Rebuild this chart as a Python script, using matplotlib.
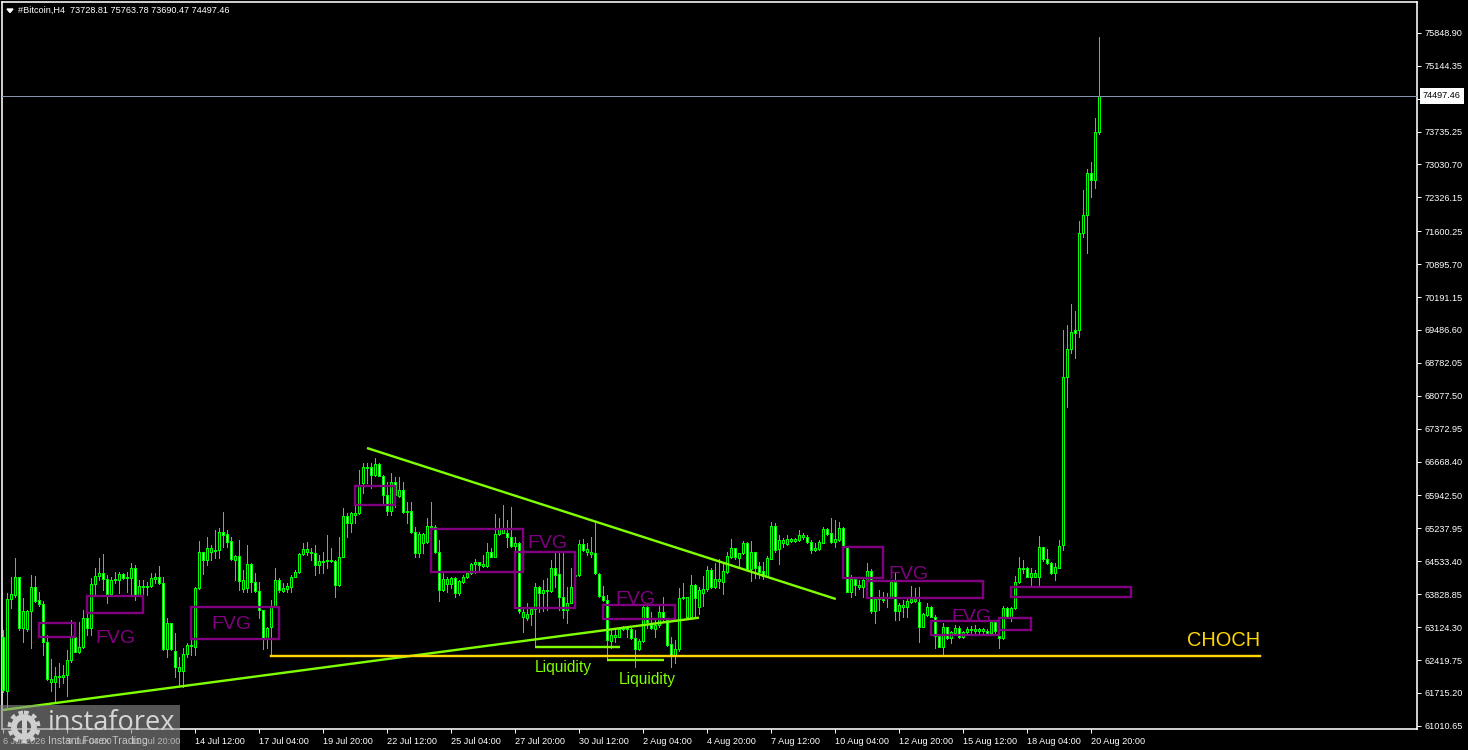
#!/usr/bin/env python
import matplotlib
matplotlib.use('Agg')
import matplotlib.pyplot as plt
from matplotlib.patches import Rectangle, Circle, Polygon

plt.rcParams['font.family'] = ['Liberation Sans', 'DejaVu Sans']

opens = [
    62920,61756,63719,63812,64190,63098,63084,63476,63976,63705,
    63612,62798,61956,61956,62063,62063,62099,62413,62920,62598,
    62705,63312,63112,64040,64226,64276,64147,63833,64133,64133,
    64254,64169,64169,64383,63812,63976,63976,64004,64154,64190,
    64062,62656,63205,62620,62192,62192,62541,62720,62705,63954,
    64725,64561,64740,64747,64775,65168,65111,64968,64561,64647,
    63947,63954,64476,64097,63897,63491,62884,63119,63576,64133,
    63897,63933,63990,64204,64297,64682,64732,64740,64704,64447,
    64525,64540,64540,64540,64026,64632,65503,65360,65517,65567,
    66202,66523,66545,66381,66616,66366,65952,65617,66238,65931,
    66059,65596,65617,65167,64703,64918,64953,65260,65274,64739,
    63918,64047,64047,64168,63847,64097,64190,64275,64475,64511,
    64432,64432,64725,64632,65110,65146,65146,65060,64868,64932,
    63333,63312,63405,63504,63990,63861,63904,63904,64382,64254,
    63761,63490,63647,64225,64239,64903,64739,64689,64703,64261,
    63797,63704,62826,62919,62919,63083,63076,63076,62898,62648,
    62826,63547,63169,63083,63169,63454,63276,62755,62505,62648,
    63776,63347,63347,64025,63547,63862,63933,64347,63976,64112,
    64097,64312,64633,64811,64597,64704,64918,64369,64725,64433,
    64326,64219,64583,65289,64790,64918,64904,64968,64975,64990,
    65054,65061,64954,64775,64790,64932,65218,65132,64954,64990,
    65239,64833,63883,64147,63990,63990,64133,64326,63477,63719,
    63705,63755,63762,64090,63477,63548,63548,63669,63683,63669,
    63134,63384,63548,63348,62934,62706,63120,62884,62991,63098,
    62920,63027,63063,63048,63048,63048,63048,62991,63227,62934,
    62884,63526,63348,63526,64097,64362,64383,64204,64204,64204,
    64833,64576,64490,64290,64397,64882,68471,69071,69485,69485,
    71570,71956,72855,72698,73728.81,
]
closes = [
    61778,63719,63826,64190,63098,63476,63476,63976,63690,63612,
    62798,62006,62020,62085,62085,62099,62413,62920,62598,62705,
    63312,63112,64040,64226,64276,64147,63833,64133,64161,64254,
    64183,64190,64383,63812,64004,64004,64004,64169,64190,64062,
    62656,63205,62656,62277,62277,62541,62741,62741,63969,64725,
    64561,64811,64811,64775,65168,65096,64954,64575,64647,64119,
    64133,64476,64097,63897,63491,62884,63098,63576,64133,63919,
    63954,64004,64204,64297,64682,64789,64789,64704,64447,64533,
    64547,64561,64561,64026,64632,65503,65360,65560,65560,66167,
    66545,66545,66381,66616,66366,65952,65617,66238,65952,66059,
    65596,65617,65167,64703,65110,65110,65296,65296,64739,63918,
    64147,64147,64168,63847,64104,64190,64275,64475,64511,64461,
    64475,64725,64632,65110,65239,65239,65060,64868,64932,63476,
    63454,63405,63504,63990,63861,63918,63918,64382,64239,63761,
    63490,63647,63975,64239,64903,64775,64789,64739,64275,63797,
    63704,62848,62955,62955,63083,63112,63098,62883,62648,62826,
    63547,63240,63098,63169,63454,63290,62741,62505,62648,63740,
    63740,63761,64025,63740,63918,63933,64347,63976,64147,64147,
    64326,64647,64811,64618,64704,64918,64369,64725,64383,64312,
    64219,64597,65289,64775,64990,64990,65004,65011,65004,65089,
    65089,64954,64775,64811,64940,65218,65118,64954,65004,65239,
    64847,63883,64147,64019,64019,64133,64326,63477,63719,63733,
    63733,63776,64090,63477,63591,63591,63676,63719,63719,63134,
    63398,63548,63348,62934,62706,63120,62884,63027,63098,62906,
    63027,63077,63091,63077,63077,63077,62991,63227,63048,62884,
    63526,63348,63526,64097,64383,64383,64204,64276,64276,64833,
    64576,64490,64290,64404,64868,68471,69071,69435,69428,71570,
    71956,72855,72698,73726,74497.46,
]
highs = [
    63062,63847,64204,64597,64204,63740,63491,64240,64226,63883,
    63690,62955,62434,62277,62363,62313,62634,63276,63205,63241,
    63491,63491,64169,64383,64597,64690,64240,64204,64311,64311,
    64276,64311,64490,64454,64133,64133,64097,64276,64276,64433,
    64204,63312,63205,62991,62491,62670,62777,62848,63990,64968,
    64740,65061,64882,65203,65239,65596,65203,65061,64668,64989,
    64347,64882,64490,64276,64097,63491,63134,63705,64383,64169,
    64062,64062,64240,64347,64704,64918,64954,64811,64882,64668,
    64740,65096,64811,64561,65061,65667,65560,65596,65917,66488,
    66630,66630,66630,66737,66645,66381,66238,66416,66345,66345,
    66238,65810,65810,65260,65167,65132,65453,65810,65310,64989,
    64275,64204,64190,64190,64132,64240,64311,64504,64575,64525,
    64668,64917,64810,65546,65453,65738,65417,65703,65060,64953,
    63562,63633,63562,64061,64004,64132,64168,64561,64703,64703,
    64703,63990,64382,64561,64989,65010,64917,65060,65346,64275,
    64004,63811,63062,63098,63133,63148,63133,63098,63062,62862,
    63597,63576,63454,63276,63597,63776,63312,62919,62848,63954,
    64061,63776,64239,64047,63990,64219,64440,64383,64490,64576,
    64490,64740,65011,64825,64718,64968,64940,64968,64740,64526,
    64526,64647,65382,65346,65097,65025,65097,65040,65040,65204,
    65132,65097,64990,64918,64990,65275,65239,65453,65418,65382,
    65261,64847,64240,64190,64133,64169,64490,64362,63776,63919,
    63883,63848,64133,64276,63634,63705,63719,64005,63955,63976,
    63419,63634,63576,63384,62955,63220,63134,63048,63170,63148,
    63048,63120,63148,63170,63098,63098,63077,63277,63241,63348,
    63576,63548,63562,64219,64618,64561,64419,64383,64347,65075,
    64847,64790,64526,64490,64990,69485,69592,70042,69892,71813,
    72477,72926,73090,74018,75763.78,
]
lows = [
    61742,61421,63526,63776,63062,62798,63048,62670,63669,63576,
    62527,61992,61763,61492,61849,61920,61656,62384,62584,62563,
    62670,62955,62955,63812,64133,63919,63648,63812,64062,63847,
    64161,63883,63812,63705,63812,63812,63812,63990,64062,64047,
    62634,62491,62634,62063,61863,61849,62491,62527,62527,63933,
    64254,64454,64561,64597,64597,64847,64847,64561,64133,63919,
    63883,63883,63883,63883,63312,62656,62670,62527,63562,63883,
    63883,63883,63883,64190,64276,64668,64668,64561,64240,64276,
    64276,64383,64525,63762,64004,64618,65061,65168,65346,65546,
    65988,66202,66095,66359,66359,65738,65524,65524,65703,65917,
    65574,65346,65146,64632,64618,64703,64932,65239,64703,63690,
    63904,63883,63954,63776,63811,64061,64168,64261,64275,64311,
    64418,64418,64618,64618,65096,65132,64846,64846,64561,63433,
    63026,63276,63169,62705,63454,63476,63490,63883,63990,63490,
    63312,63219,63633,63975,64225,64761,64668,64632,64261,63776,
    63690,62420,62669,62812,62905,63062,62919,62869,62263,62634,
    62805,63098,63076,62919,63133,63262,62726,62263,62362,62619,
    63718,63312,63312,63347,63404,63576,63905,63955,63955,63955,
    63833,64290,64597,64576,64383,64690,64347,64112,64169,64169,
    64147,64204,64576,64740,64476,64847,64882,64954,64940,64975,
    65004,64918,64718,64761,64775,64918,65097,64932,64847,64975,
    64833,63869,63776,63812,63933,63776,64119,63419,63205,63491,
    63669,63562,63741,63277,63277,63334,63348,63648,63669,62813,
    63120,63362,63334,62670,62691,62527,62863,62777,62955,62884,
    62891,63006,63006,63006,63006,63006,62977,62977,62955,62670,
    62870,63334,63262,63505,64076,64276,64190,64005,64190,64005,
    64547,64476,64262,64133,64383,64775,67829,69000,68893,69328,
    71478,71142,72334,72520,73690.47,
]

price_ticks = [75848.90, 75144.35, 74439.80, 73735.25, 73030.70, 72326.15, 71600.25,
               70895.70, 70191.15, 69486.60, 68782.05, 68077.50, 67372.95, 66668.40,
               65942.50, 65237.95, 64533.40, 63828.85, 63124.30, 62419.75, 61715.20, 61010.65]
date_labels = ['6 Jul 2026', '9 Jul 04:00', '11 Jul 20:00', '14 Jul 12:00', '17 Jul 04:00',
               '19 Jul 20:00', '22 Jul 12:00', '25 Jul 04:00', '27 Jul 20:00', '30 Jul 12:00',
               '2 Aug 04:00', '4 Aug 20:00', '7 Aug 12:00', '10 Aug 04:00', '12 Aug 20:00',
               '15 Aug 12:00', '18 Aug 04:00', '20 Aug 20:00']
last_price = 74497.46

# bar index from, bar index to, price low, price high
fvg_boxes = [
    (8.9, 18.1, 62912, 63212), (21, 35.1, 63426, 63790), (47, 69, 62870, 63555),
    (87.9, 98, 65739, 66145), (106.9, 130.1, 64304, 65225), (128, 143, 63533, 64732),
    (150, 168.1, 63298, 63598), (210, 220.1, 64169, 64846), (215.9, 245.1, 63747, 64118),
    (232, 249, 62955, 63261), (249, 257, 63062, 63326), (252, 282, 63762, 63989),
]
fvg_labels = [(23, 62870), (52, 63190), (131, 64905), (153, 63725), (221.25, 64260), (237, 63320)]
liquidity_labels = [(133, 62250), (154, 62000)]
# x0, x1, p0, p1
green_lines = [
    (0, 174, 61350, 63326), (91, 208.2, 66959, 63726),
    (133, 154.25, 62705, 62705), (151, 165.25, 62420, 62420),
]
choch_line = (67, 314.25, 62506)

LIME = '#00ff00'
CHART = '#7fff00'
PURPLE = '#800080'
GOLD = '#ffd700'
PX = 0.72  # one pixel in points at dpi 100

fig = plt.figure(figsize=(14.68, 7.5), dpi=100, facecolor='black')
ax = fig.add_axes([2 / 1468, 21 / 750, 1415 / 1468, 727 / 750], facecolor='black')
ax.set_xlim(-0.25, 353.5)
ax.set_ylim(60943, 76508)

x = list(range(len(closes)))
ax.vlines(x, lows, highs, color=LIME, lw=PX, antialiased=False, zorder=2)
bottoms = [min(o, c) for o, c in zip(opens, closes)]
heights = [abs(o - c) for o, c in zip(opens, closes)]
faces = ['black' if c >= o else 'white' for o, c in zip(opens, closes)]
ax.bar(x, heights, bottom=bottoms, width=0.5, color=faces, edgecolor=LIME,
       linewidth=PX, antialiased=False, zorder=3)

ax.axhline(last_price, color='#8494ac', lw=PX, zorder=4)

for x0, x1, lo, hi in fvg_boxes:
    ax.add_patch(Rectangle((x0, lo), x1 - x0, hi - lo, fill=False, edgecolor=PURPLE,
                           lw=2.4 * PX, zorder=5))
for x0, x1, p0, p1 in green_lines:
    ax.plot([x0, x1], [p0, p1], color=CHART, lw=2.4 * PX, zorder=6, solid_capstyle='butt')
ax.plot(choch_line[:2], [choch_line[2]] * 2, color=GOLD, lw=2.4 * PX, zorder=6)

for tx, ty in fvg_labels:
    ax.text(tx, ty, 'FVG', color=PURPLE, fontsize=14, ha='left', va='center', zorder=7)
for tx, ty in liquidity_labels:
    ax.text(tx, ty, 'Liquidity', color=CHART, fontsize=11.2, ha='left', va='center', zorder=7)
ax.text(296, 62848, 'CHOCH', color=GOLD, fontsize=14.4, ha='left', va='center', zorder=7)

for side in ax.spines.values():
    side.set_color('white')
    side.set_linewidth(1.6 * PX)
ax.yaxis.tick_right()
ax.set_yticks(price_ticks)
ax.set_yticklabels(['%.2f' % p for p in price_ticks])
ax.set_xticks(range(0, 16 * len(date_labels), 16))
ax.set_xticklabels(date_labels, ha='left')
ax.tick_params(colors='white', labelsize=6.6, length=3, width=PX, pad=2.5)
ax.tick_params(axis='x', pad=3)
ax.text(1.0 + 6 / 1415, last_price, '%.2f' % last_price, transform=ax.get_yaxis_transform(),
        color='black', fontsize=6.6, ha='left', va='center', clip_on=False, zorder=20,
        bbox=dict(facecolor='white', edgecolor='none', boxstyle='square,pad=0.35'))

# header and logo are placed in plain picture pixels
over = fig.add_axes([0, 0, 1, 1], facecolor='none')
over.set_xlim(0, 1468)
over.set_ylim(750, 0)
over.axis('off')
over.add_patch(Polygon([(7, 9), (13, 9), (10, 12.5)], color='white'))
over.text(18, 10.5, '#Bitcoin,H4  73728.81 75763.78 73690.47 74497.46', color='white',
          fontsize=6.6, ha='left', va='center')

over.add_patch(Rectangle((0, 705), 180, 45, facecolor='#8a8a8a', alpha=0.62, edgecolor='none'))
over.add_patch(Circle((24, 727), 10, fill=False, edgecolor='#cfcfcf', lw=4.2))
over.add_patch(Circle((24, 727), 14.5, fill=False, edgecolor='#cfcfcf', lw=2.8, ls=(0, (1.2, 1.0))))
over.add_patch(Rectangle((21.5, 719), 5, 16, facecolor='#cfcfcf', edgecolor='none'))
over.text(47.5, 723, 'instaforex', color='#d6d6d6', fontsize=19.5, ha='left', va='center',
          family='Open Sans')
over.text(48, 741, 'Instant Forex Trading', color='#c4c4c4', fontsize=7.6, ha='left', va='center')

fig.savefig('out.png', dpi=100, facecolor='black')
